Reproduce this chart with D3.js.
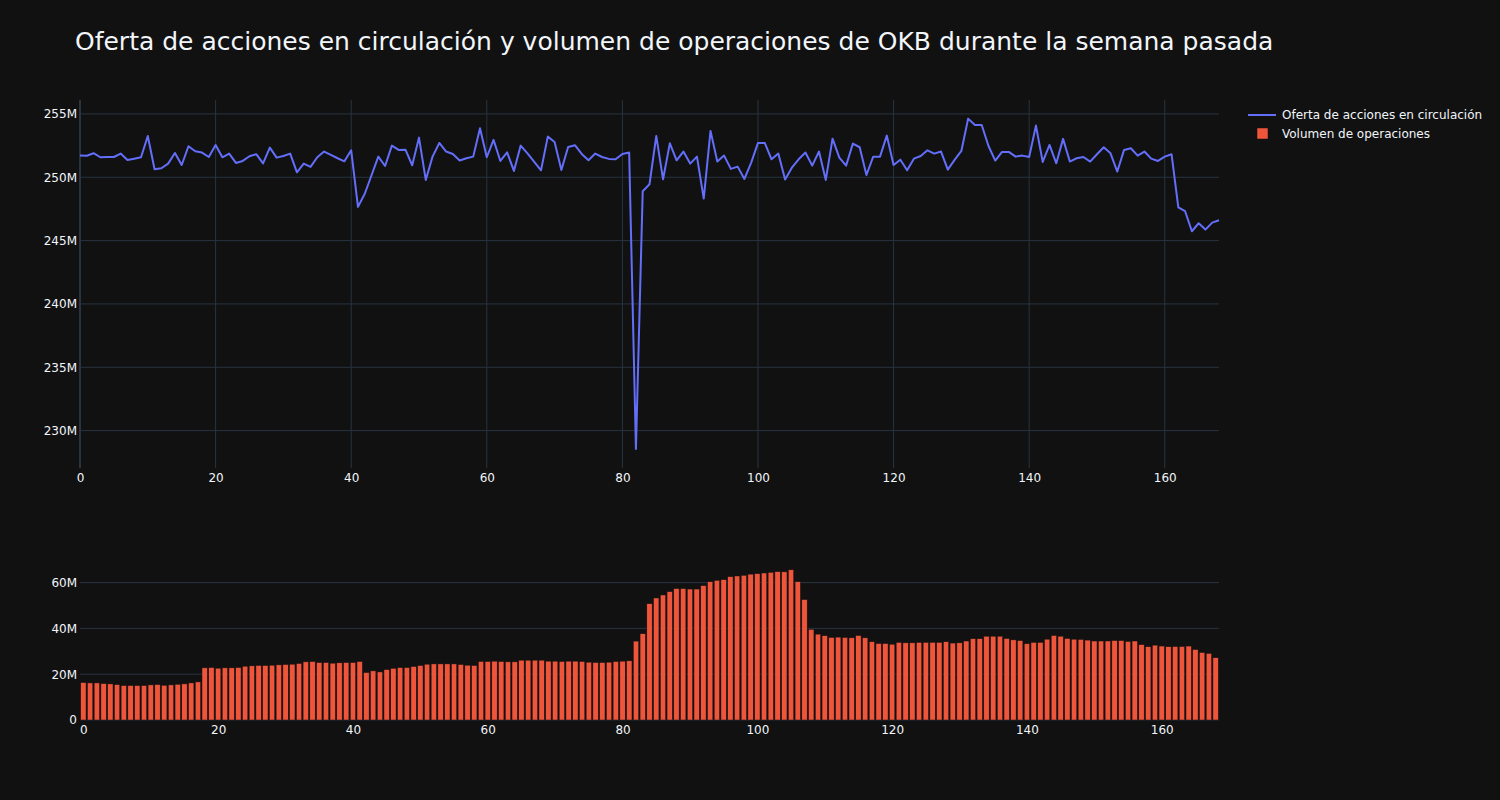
<!DOCTYPE html>
<html>
<head>
<meta charset="utf-8">
<script src="https://cdn.jsdelivr.net/npm/d3@7"></script>
<style>
  body { margin: 0; background: #111111; }
  text { font-family: "DejaVu Sans", sans-serif; fill: #f2f5fa; }
  .grid line { stroke: #283442; stroke-width: 1; }
  .axis path, .axis line { display: none; }
  .axis text { font-size: 12px; fill: #f2f5fa; }
</style>
</head>
<body>
<div id="chart"></div>
<script>
// Circulating supply (millions), hourly over the last week
var supply = [
  251.71, 251.7, 251.9, 251.58, 251.6, 251.6, 251.87, 251.37, 251.47, 251.58,
  253.26, 250.63, 250.71, 251.08, 251.92, 250.97, 252.45, 252.05, 251.95, 251.6,
  252.55, 251.58, 251.87, 251.13, 251.29, 251.66, 251.82, 251.1, 252.34, 251.55,
  251.68, 251.87, 250.39, 251.08, 250.82, 251.58, 252.03, 251.76, 251.5, 251.26,
  252.13, 247.66, 248.7, 250.16, 251.63, 250.89, 252.5, 252.16, 252.18, 250.95,
  253.13, 249.79, 251.63, 252.71, 252.03, 251.84, 251.32, 251.5, 251.63, 253.87,
  251.58, 252.95, 251.29, 251.97, 250.5, 252.5, 251.89, 251.21, 250.55, 253.21,
  252.79, 250.58, 252.39, 252.53, 251.84, 251.34, 251.87, 251.6, 251.45, 251.42,
  251.84, 251.95, 228.55, 248.9, 249.45, 253.26, 249.84, 252.68, 251.34, 252.03,
  251.08, 251.63, 248.32, 253.66, 251.24, 251.71, 250.66, 250.84, 249.87, 251.16,
  252.71, 252.71, 251.42, 251.87, 249.82, 250.76, 251.42, 251.95, 250.92, 252.03,
  249.79, 253.05, 251.55, 250.92, 252.66, 252.37, 250.18, 251.63, 251.63, 253.29,
  250.97, 251.39, 250.55, 251.47, 251.68, 252.13, 251.87, 252.03, 250.6, 251.37,
  252.08, 254.63, 254.13, 254.13, 252.47, 251.32, 252.0, 252.0, 251.63, 251.71,
  251.6, 254.08, 251.21, 252.55, 251.1, 253.03, 251.24, 251.5, 251.6, 251.24,
  251.82, 252.37, 251.89, 250.45, 252.16, 252.29, 251.71, 252.03, 251.47, 251.29,
  251.63, 251.82, 247.63, 247.32, 245.74, 246.37, 245.87, 246.42, 246.61
];

// Trading volume (millions)
var volume = [
  16.35, 16.2, 16.2, 15.9, 15.77, 15.47, 15.04, 15.04, 15.04, 15.04,
  15.33, 15.47, 15.18, 15.33, 15.62, 15.77, 16.2, 16.64, 22.78, 22.92,
  22.63, 22.78, 22.78, 22.92, 23.5, 23.65, 23.8, 23.8, 23.94, 24.09,
  24.24, 24.38, 24.67, 25.4, 25.55, 25.1, 25.1, 24.82, 24.97, 25.1,
  25.1, 25.55, 20.73, 21.46, 21.0, 22.0, 22.6, 22.9, 22.9, 23.36,
  23.8, 24.38, 24.5, 24.5, 24.5, 24.5, 24.24, 23.94, 23.8, 25.55,
  25.55, 25.7, 25.55, 25.4, 25.4, 26.13, 26.13, 26.13, 26.13, 25.7,
  25.7, 25.55, 25.7, 25.7, 25.55, 25.26, 25.1, 25.1, 25.26, 25.55,
  25.7, 25.84, 34.46, 37.67, 50.8, 53.3, 54.6, 56.06, 57.4, 57.4,
  57.2, 57.2, 58.7, 60.4, 61.0, 61.3, 62.6, 62.9, 63.2, 63.7,
  63.9, 64.2, 64.5, 64.8, 64.7, 65.6, 60.4, 52.6, 39.6, 37.5,
  36.8, 36.06, 36.2, 36.06, 35.9, 36.9, 35.9, 34.2, 33.4, 33.4,
  33.1, 33.9, 33.7, 33.7, 33.9, 33.9, 33.9, 33.9, 34.2, 33.6,
  33.7, 34.5, 35.5, 35.5, 36.6, 36.6, 36.6, 35.6, 35.0, 34.7,
  33.3, 33.9, 33.9, 35.3, 36.9, 36.6, 35.6, 35.3, 35.2, 34.9,
  34.5, 34.5, 34.5, 34.7, 34.7, 34.3, 34.5, 32.9, 32.0, 32.7,
  32.3, 32.0, 32.1, 32.1, 32.3, 30.8, 29.5, 29.1, 27.2
];

var hours = d3.range(supply.length);
var xTicks = [0, 20, 40, 60, 80, 100, 120, 140, 160];
var supplyTicks = [230, 235, 240, 245, 250, 255];
var volumeTicks = [0, 20, 40, 60];

var titleText = "Oferta de acciones en circulación y volumen de operaciones de OKB durante la semana pasada";
var legendItems = ["Oferta de acciones en circulación", "Volumen de operaciones"];

var lineColor = "#636efa", barColor = "#EF553B";

var W = 1500, H = 800;
var left = 80, right = 1219;

var svg = d3.select("#chart").append("svg")
  .attr("width", W).attr("height", H)
  .style("background", "#111111");

// title
svg.append("text")
  .attr("x", 75).attr("y", 50)
  .style("font-size", "25px")
  .text(titleText);

// ---------------- top panel: supply line ----------------
var top1 = 100, bot1 = 468;
var x1 = d3.scaleLinear().domain([0, 168]).range([left, right]);
var y1 = d3.scaleLinear().domain([227.05, 256.1]).range([bot1, top1]);

var g1 = svg.append("g");
g1.append("g").attr("class", "grid")
  .selectAll("line").data(supplyTicks).enter().append("line")
  .attr("x1", left).attr("x2", right)
  .attr("y1", d => y1(d)).attr("y2", d => y1(d));
g1.append("g").attr("class", "grid")
  .selectAll("line").data(xTicks).enter().append("line")
  .attr("y1", top1).attr("y2", bot1)
  .attr("x1", d => x1(d)).attr("x2", d => x1(d))
  .style("stroke-width", d => d === 0 ? 2 : 1);

g1.append("g").attr("class", "axis")
  .attr("transform", "translate(" + (left - 1) + ",0)")
  .call(d3.axisLeft(y1).tickValues(supplyTicks).tickSize(0).tickPadding(2).tickFormat(d => d + "M"));
g1.append("g").attr("class", "axis")
  .attr("transform", "translate(0," + (bot1 + 1) + ")")
  .call(d3.axisBottom(x1).tickValues(xTicks).tickSize(0).tickPadding(4));

var line = d3.line()
  .x((d, i) => x1(hours[i]))
  .y(d => y1(d));
g1.append("path")
  .datum(supply)
  .attr("d", line)
  .attr("fill", "none")
  .attr("stroke", lineColor)
  .attr("stroke-width", 2)
  .attr("stroke-linejoin", "round");

// ---------------- bottom panel: volume bars ----------------
var top2 = 562, bot2 = 720;
var xb = d3.scaleBand().domain(hours).range([left, right]).paddingInner(0.2).paddingOuter(0.1);
var x2 = d3.scaleLinear().domain([-0.5, 168.5]).range([left, right]);
var y2 = d3.scaleLinear().domain([0, 69]).range([bot2, top2]);

var g2 = svg.append("g");
g2.append("g").attr("class", "grid")
  .selectAll("line").data(volumeTicks).enter().append("line")
  .attr("x1", left).attr("x2", right)
  .attr("y1", d => y2(d)).attr("y2", d => y2(d));

g2.append("g").attr("class", "axis")
  .attr("transform", "translate(" + (left - 1) + ",0)")
  .call(d3.axisLeft(y2).tickValues(volumeTicks).tickSize(0).tickPadding(2).tickFormat(d => d === 0 ? "0" : d + "M"));
g2.append("g").attr("class", "axis")
  .attr("transform", "translate(0," + (bot2 + 1) + ")")
  .call(d3.axisBottom(x2).tickValues(xTicks).tickSize(0).tickPadding(4));

g2.append("g")
  .selectAll("rect").data(volume).enter().append("rect")
  .attr("x", (d, i) => xb(hours[i]))
  .attr("width", xb.bandwidth())
  .attr("y", d => y2(d))
  .attr("height", d => bot2 - y2(d))
  .attr("fill", barColor)
  .attr("stroke", "#111111")
  .attr("stroke-width", 0.5);

// ---------------- legend ----------------
var leg = svg.append("g").attr("transform", "translate(1248,115)");
leg.append("line")
  .attr("x1", 0).attr("x2", 28).attr("y1", 0).attr("y2", 0)
  .attr("stroke", lineColor).attr("stroke-width", 2);
leg.append("rect")
  .attr("x", 9).attr("y", 13).attr("width", 11).attr("height", 11)
  .attr("fill", barColor).attr("stroke", "#111111").attr("stroke-width", 0.5);
leg.selectAll("text.lbl").data(legendItems).enter().append("text")
  .attr("class", "lbl")
  .attr("x", 34).attr("y", (d, i) => i * 19)
  .attr("dy", "0.35em")
  .style("font-size", "12px")
  .text(d => d);
</script>
</body>
</html>
